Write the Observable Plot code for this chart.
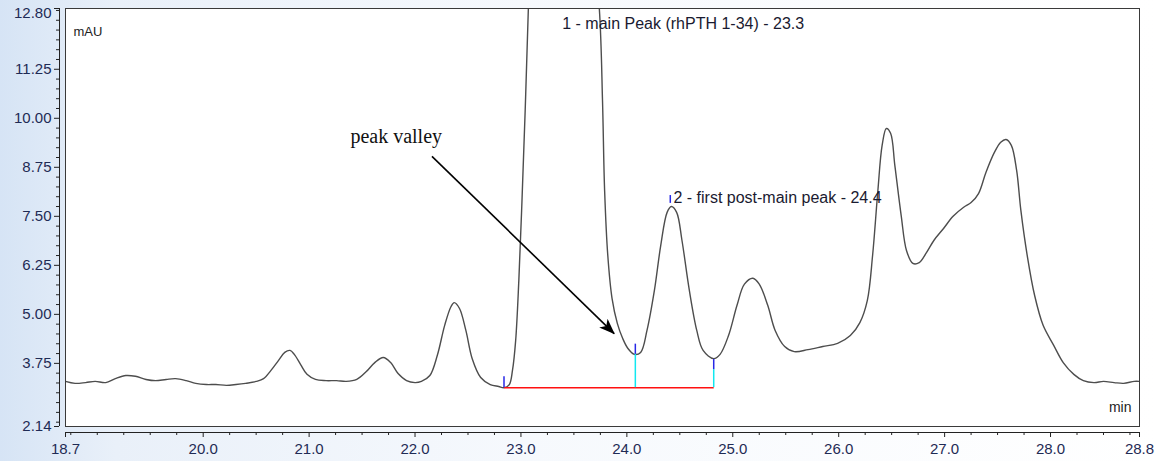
<!DOCTYPE html>
<html><head><meta charset="utf-8">
<script src="https://cdn.jsdelivr.net/npm/d3@7"></script>
<script src="https://cdn.jsdelivr.net/npm/@observablehq/plot@0.6"></script>
<style>
html,body{margin:0;padding:0;}
body{width:1157px;height:461px;overflow:hidden;background:linear-gradient(to right,#d6e4f5 0%,#e9f0f9 10%,#f6f9fd 45%,#ffffff 100%);}
#chart svg{display:block;}
</style></head><body><div id="chart"></div>
<script>
// retention time (min)
const time = [18.70,18.79,18.89,18.98,19.08,19.17,19.27,19.36,19.46,19.55,19.65,19.74,19.84,19.93,20.03,20.12,20.22,20.31,20.40,20.50,
20.57,20.64,20.71,20.77,20.82,20.86,20.92,20.98,21.06,21.16,21.26,21.35,21.45,21.54,21.62,21.70,21.77,21.84,21.92,22.00,
22.06,22.14,22.21,22.28,22.34,22.37,22.42,22.48,22.54,22.62,22.71,22.79,22.84,22.89,22.92,22.95,22.98,23.01,23.04,23.07,
23.12,23.20,23.30,23.45,23.60,23.74,23.77,23.79,23.82,23.86,23.91,23.96,24.01,24.07,24.13,24.19,24.26,24.32,24.38,24.42,
24.47,24.52,24.59,24.66,24.72,24.82,24.88,24.96,25.04,25.11,25.19,25.25,25.33,25.40,25.49,25.58,25.71,25.85,25.99,26.11,
26.20,26.27,26.32,26.37,26.41,26.45,26.49,26.53,26.59,26.64,26.70,26.76,26.83,26.90,26.99,27.08,27.18,27.25,27.32,27.39,
27.47,27.53,27.58,27.63,27.68,27.72,27.78,27.85,27.93,28.03,28.12,28.22,28.31,28.41,28.50,28.60,28.69,28.79,28.84];
// signal (mAU)
const signal = [3.29,3.24,3.26,3.29,3.26,3.36,3.44,3.42,3.34,3.31,3.34,3.36,3.31,3.24,3.21,3.21,3.19,3.21,3.24,3.29,
3.36,3.57,3.82,4.03,4.08,3.98,3.72,3.47,3.34,3.31,3.31,3.29,3.34,3.54,3.77,3.90,3.77,3.49,3.31,3.26,
3.29,3.44,3.95,4.72,5.20,5.30,5.15,4.59,3.87,3.39,3.21,3.16,3.13,3.21,3.57,4.33,5.86,7.91,10.2,12.8,
16.5,21.0,23.5,21.5,17.0,12.8,10.46,8.16,6.50,5.41,4.77,4.39,4.13,3.98,4.03,4.59,5.61,6.76,7.60,7.75,
7.60,6.89,5.61,4.59,4.08,3.87,3.98,4.46,5.23,5.77,5.92,5.77,5.23,4.59,4.18,4.05,4.10,4.18,4.26,4.46,
4.79,5.35,6.50,8.16,9.31,9.74,9.62,8.80,7.52,6.63,6.30,6.32,6.58,6.89,7.19,7.50,7.73,7.85,8.08,8.62,
9.13,9.39,9.46,9.31,8.67,7.65,6.50,5.48,4.72,4.21,3.77,3.47,3.31,3.26,3.29,3.26,3.24,3.29,3.29];

const xDomain = [18.7, 28.84];
const yDomain = [2.14, 12.80];
const xMajorTicks = [18.7, 20, 21, 22, 23, 24, 25, 26, 27, 28, 28.84];
const xMinorTicks = [18.75,19,19.25,19.5,19.75,20.25,20.5,20.75,21.25,21.5,21.75,22.25,22.5,22.75,23.25,23.5,23.75,
  24.25,24.5,24.75,25.25,25.5,25.75,26.25,26.5,26.75,27.25,27.5,27.75,28.25,28.5,28.75];
const yMajorTicks = [2.14, 3.75, 5.00, 6.25, 7.50, 8.75, 10.00, 11.25, 12.80];
const yMinorTicks = [2.25,2.5,2.75,3,3.25,3.5,4,4.25,4.5,4.75,5.25,5.5,5.75,6,6.5,6.75,7,7.25,7.75,8,8.25,8.5,
  9,9.25,9.5,9.75,10.25,10.5,10.75,11,11.5,11.75,12,12.25,12.5,12.75];

// integration baseline of peaks 1-2
const baselineStart = [22.84];
const baselineEnd = [24.82];
const baselineLevel = [3.13];
// peak delimiters: drop lines (cyan) and marker ticks (blue)
const dropTimes = [24.08, 24.82];
const dropTops = [3.98, 3.59];
const markTimes = [22.84, 24.08, 24.82, 24.41];
const markLow = [3.13, 3.98, 3.59, 7.83];
const markHigh = [3.41, 4.24, 3.85, 8.03];
// peak labels
const peakNames = ["1 - main Peak (rhPTH 1-34) - 23.3", "2 - first post-main peak - 24.4"];
const peakLabelTime = [23.39, 24.44];
const peakLabelValue = [12.42, 7.98];
// annotation
const noteText = ["peak valley"];
const noteTime = [21.39], noteValue = [9.53];
const arrowFrom = [22.16, 9.03];
const arrowTo = [23.88, 4.51];

const trace = time.map((t, i) => ({t, v: signal[i]}));
const baseline = baselineStart.map((s, i) => ({x1: s, x2: baselineEnd[i], y: baselineLevel[i]}));
const drops = dropTimes.map((t, i) => ({t, y1: baselineLevel[0], y2: dropTops[i]}));
const marks = markTimes.map((t, i) => ({t, y1: markLow[i], y2: markHigh[i]}));
const peaks = peakNames.map((n, i) => ({n, t: peakLabelTime[i], v: peakLabelValue[i]}));
const notes = noteText.map((n, i) => ({n, t: noteTime[i], v: noteValue[i]}));
const arrows = [{x1: arrowFrom[0], y1: arrowFrom[1], x2: arrowTo[0], y2: arrowTo[1]}];

const labelColor = "#1f2b55";
const sans = "'Liberation Sans', Arial, sans-serif";

const chart = Plot.plot({
  width: 1157, height: 461,
  marginLeft: 65, marginRight: 18, marginTop: 8, marginBottom: 35,
  x: {domain: xDomain},
  y: {domain: yDomain},
  style: {background: "transparent", fontFamily: sans, overflow: "visible"},
  marks: [
    Plot.frame({fill: "white", stroke: "none"}),
    Plot.line(trace, {x: "t", y: "v", stroke: "#4d4d4d", strokeWidth: 1.4, curve: "catmull-rom", clip: true}),
    Plot.link(baseline, {x1: "x1", x2: "x2", y1: "y", y2: "y", stroke: "#ff1010", strokeWidth: 1.5}),
    Plot.ruleX(drops, {x: "t", y1: "y1", y2: "y2", stroke: "#10e8f0", strokeWidth: 1.5}),
    Plot.ruleX(marks, {x: "t", y1: "y1", y2: "y2", stroke: "#2828e6", strokeWidth: 1.5}),
    Plot.frame({stroke: "#3a3a3a", strokeWidth: 1}),
    // y axis
    Plot.ruleX([xDomain[0]], {y1: yDomain[0], y2: yDomain[1], dx: -6, stroke: "#222"}),
    Plot.axisY(yMajorTicks, {tickSize: 5, dx: -6, text: null, stroke: "#222"}),
    Plot.axisY(yMinorTicks, {tickSize: 3, dx: -6, text: null, stroke: "#222"}),
    Plot.text(yMajorTicks.filter(d => d !== yDomain[1]), {y: d => d, frameAnchor: "left", dx: -14, textAnchor: "end",
      text: d => d.toFixed(2), fontSize: 15, fill: labelColor}),
    Plot.text([yDomain[1]], {y: d => d, frameAnchor: "left", dx: -14, dy: 5, textAnchor: "end",
      text: d => d.toFixed(2), fontSize: 15, fill: labelColor}),
    // x axis
    Plot.ruleY([yDomain[0]], {x1: xDomain[0], x2: xDomain[1], dy: 6, stroke: "#222"}),
    Plot.axisX(xMajorTicks, {tickSize: 5, dy: 6, text: null, stroke: "#222"}),
    Plot.axisX(xMinorTicks, {tickSize: 3, dy: 6, text: null, stroke: "#222"}),
    Plot.text(xMajorTicks, {x: d => d, frameAnchor: "bottom", dy: 27, text: d => d.toFixed(1), fontSize: 15, fill: labelColor}),
    // unit labels
    Plot.text(["mAU"], {frameAnchor: "top-left", dx: 8, dy: 18, textAnchor: "start", fontSize: 13, fill: "#222"}),
    Plot.text(["min"], {frameAnchor: "bottom-right", dx: -8, dy: -15, textAnchor: "end", fontSize: 14, fill: "#222"}),
    // peak labels
    Plot.text(peaks, {x: "t", y: "v", text: "n", textAnchor: "start", fontSize: 16, fill: "#1a1a30"}),
    // annotation
    Plot.text(notes, {x: "t", y: "v", text: "n", textAnchor: "start", fontSize: 20, fontFamily: "'Liberation Serif', 'Times New Roman', serif", fill: "#111"}),
    Plot.link(arrows, {x1: "x1", y1: "y1", x2: "x2", y2: "y2", stroke: "#000", strokeWidth: 1.6})
  ]
});

// filled arrowhead on the annotation link
const svg = d3.select(chart);
const defs = svg.insert("defs", ":first-child");
defs.append("marker").attr("id", "ahead").attr("viewBox", "0 0 16 12").attr("refX", 15).attr("refY", 6)
  .attr("markerWidth", 16).attr("markerHeight", 12).attr("markerUnits", "userSpaceOnUse").attr("orient", "auto")
  .append("path").attr("d", "M0,0L16,6L0,12L4,6Z").attr("fill", "#000");
svg.selectAll('g[aria-label="link"]').filter((d, i, n) => i === n.length - 1).selectAll("path").attr("marker-end", "url(#ahead)");

document.getElementById("chart").appendChild(chart);
</script></body></html>
